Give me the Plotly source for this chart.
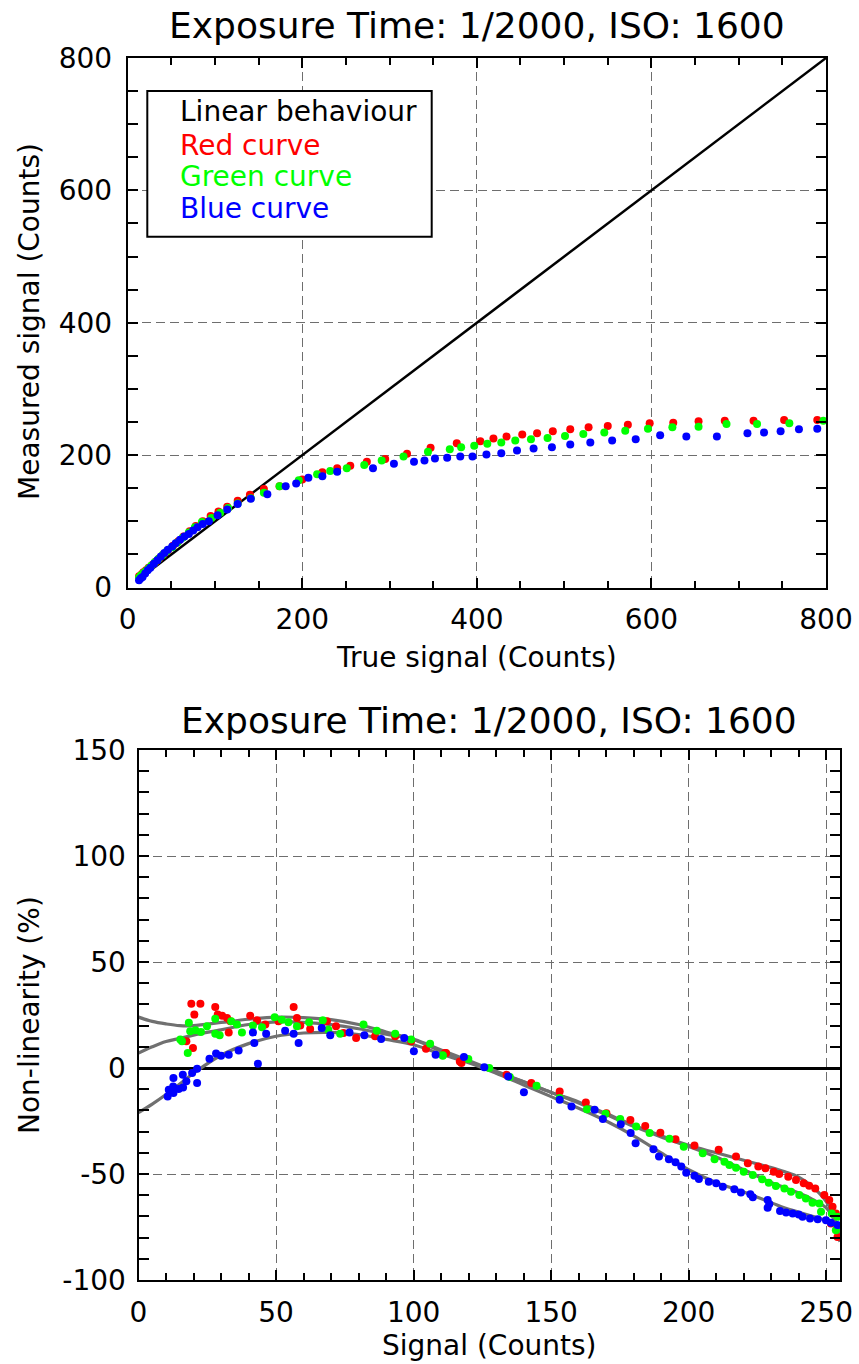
import plotly.graph_objects as go

W, H = 859, 1364

# ---------------- Top panel data (true signal vs measured signal) ----------------
linear_x = [10, 800]
linear_y = [10, 800]

red_true = [13, 16, 18, 21, 24, 28, 32, 36, 41, 46, 52, 58, 64, 71, 78, 86, 95, 104, 114, 126,
            140, 156, 174, 200, 223, 240, 255, 274, 295, 320, 347, 377, 404, 419, 434, 452, 469,
            487, 507, 528, 550, 573, 598, 625, 654, 684, 717, 752, 790]
red_meas = [17, 20, 23, 26, 30, 34, 39, 44, 50, 56, 63, 70, 77, 85, 93, 100, 108, 115, 122, 131,
            140, 149, 153, 163, 174, 180, 184, 190, 194, 202, 211, 218, 221, 225, 228, 231, 233,
            236, 239, 242, 244, 246, 248, 249, 251, 252, 252, 253, 253]

green_true = [13, 15, 18, 21, 24, 27, 31, 35, 40, 45, 51, 57, 63, 70, 77, 85, 96, 106, 115, 126,
              141, 156, 174, 196, 217, 232, 251, 271, 291, 316, 344, 369, 382, 397, 412, 428, 444,
              462, 481, 501, 522, 546, 570, 596, 624, 654, 686, 721, 758, 797]
green_meas = [15, 18, 22, 25, 29, 33, 38, 43, 49, 55, 61, 68, 75, 83, 91, 99, 105, 113, 120, 127,
              135, 143, 153, 162, 171, 176, 180, 185, 192, 198, 205, 209, 212, 214, 217, 219, 222,
              224, 226, 229, 232, 234, 237, 240, 242, 243, 247, 247, 248, 252]

blue_true = [13, 15, 17, 20, 23, 26, 30, 34, 38, 42, 46, 51, 55, 60, 65, 70, 75, 80, 86, 93, 103,
             114, 126, 141, 160, 181, 193, 207, 223, 240, 281, 305, 328, 340, 352, 366, 381, 395,
             411, 428, 446, 465, 486, 507, 530, 555, 582, 610, 640, 675, 710, 729, 748, 769, 790]
blue_meas = [11, 14, 16, 21, 26, 30, 36, 41, 47, 52, 57, 62, 67, 72, 77, 81, 86, 91, 96, 100, 109,
             118, 126, 134, 141, 153, 157, 166, 168, 175, 180, 187, 190, 192, 195, 196, 198, 198,
             201, 203, 207, 210, 212, 216, 219, 222, 224, 230, 228, 228, 233, 234, 236, 239, 240]

# ---------------- Bottom panel data (signal vs non-linearity %) ----------------
red_sig = [17.4, 19.2, 19.8, 20.3, 22.5, 27.9, 28.8, 30.4, 32.2, 32.8, 33.4, 40.6, 43.1, 46.1,
           50.9, 56.4, 57.6, 58.8, 62.4, 68.5, 71.8, 74.5, 79.1, 86.0, 93.3, 99.1, 104.5, 111.4,
           111.8, 116.8, 117.4, 133.8, 142.8, 153.1, 162.6, 170.1, 178.8, 184.2, 189.7, 195.2,
           202.1, 210.9, 217.2, 221.5, 225.3, 227.9, 230.9, 232.9, 236.2, 239.0, 241.8, 243.8,
           246.0, 249.3, 251.1, 252.3, 253.5, 251.7, 254.1]
red_nl = [12.6, 30.3, 9.4, 25.2, 30.3, 28.8, 25.2, 24.7, 23.6, 16.8, 22.0, 24.7, 22.5, 20.5,
          22.0, 28.8, 23.6, 20.0, 18.4, 22.0, 19.7, 16.5, 14.2, 15.0, 15.0, 12.6, 9.1, 7.1,
          7.1, 3.1, 2.4, -3.2, -7.1, -11.1, -16.3, -21.3, -24.5, -27.3, -30.5, -33.6,
          -36.6, -38.6, -41.8, -44.9, -46.5, -47.3, -48.9, -50.0, -51.3, -52.8, -54.4, -55.5,
          -56.8, -59.9, -62.3, -65.5, -68.6, -73.3, -79.7]

green_sig = [15.2, 15.8, 17.9, 18.3, 18.8, 20.7, 22.7, 24.9, 27.9, 27.9, 29.5, 33.7, 35.8, 37.6,
             41.6, 44.9, 49.5, 52.1, 54.5, 57.6, 62.0, 67.0, 69.0, 73.3, 81.8, 86.6, 93.3, 99.1,
             106.0, 110.6, 110.6, 119.9, 127.5, 135.0, 144.7, 153.1, 163.0, 169.8, 175.1, 180.9,
             185.8, 193.0, 198.2, 205.1, 209.4, 213.0, 214.8, 217.2, 220.0, 223.3, 226.7, 229.1,
             231.7, 234.8, 237.2, 240.2, 242.6, 245.0, 247.5, 248.1, 252.0, 254.1, 253.5]
green_nl = [13.4, 12.6, 7.1, 21.3, 17.3, 17.8, 17.0, 19.7, 23.2, 16.1, 15.5, 22.0, 20.5, 16.8,
            20.0, 19.2, 23.9, 22.8, 21.6, 19.7, 21.6, 22.5, 18.1, 16.2, 20.5, 17.6, 16.1, 13.4,
            11.4, 6.0, 5.8, 4.3, 0.0, -4.3, -8.4, -14.2, -19.4, -21.6, -24.1, -27.6,
            -30.7, -33.4, -37.1, -40.2, -43.0, -44.2, -45.7, -47.0, -48.9, -50.5, -52.5, -54.1,
            -55.7, -56.8, -58.4, -59.9, -61.5, -63.6, -63.9, -67.8, -68.6, -70.2, -76.5]

blue_sig = [10.6, 11.0, 12.6, 12.7, 12.7, 14.6, 16.1, 16.2, 17.4, 19.5, 21.3, 21.3, 25.8, 28.2,
            30.0, 32.8, 36.4, 41.6, 42.1, 43.4, 46.4, 53.3, 56.4, 58.2, 66.6, 69.7, 76.7, 82.1,
            88.2, 96.6, 100.1, 108.0, 118.3, 125.7, 134.4, 140.1, 153.1, 157.4, 165.8, 168.8,
            175.3, 178.9, 180.7, 187.2, 189.2, 192.8, 195.2, 197.3, 199.1, 202.1, 203.7, 207.3,
            210.0, 212.4, 216.6, 219.0, 222.4, 223.3, 228.7, 229.3, 228.7, 233.2, 235.4, 237.8,
            240.0, 241.4, 244.1, 246.9, 249.9, 251.7, 254.1]
blue_nl = [-13.4, -10.3, -8.7, -11.8, -4.7, -9.9, -3.2, -9.2, -6.3, -2.4, -0.3, -7.1, 4.4, 6.8,
           5.8, 6.3, 8.2, 16.8, 11.8, 2.0, 16.1, 17.6, 16.2, 11.8, 18.9, 15.5, 16.8, 15.5,
           13.7, 14.2, 7.9, 6.3, 5.2, 0.3, -4.0, -11.4, -15.0, -18.2, -19.7, -24.0,
           -26.5, -30.7, -35.5, -38.3, -41.8, -43.0, -44.5, -46.5, -49.4, -50.8, -52.4, -53.7,
           -54.4, -56.0, -57.2, -58.7, -59.6, -61.0, -62.3, -64.2, -65.9, -67.4, -68.2, -68.6,
           -69.1, -70.2, -71.0, -71.3, -71.8, -73.0, -74.1]

# polynomial-fit curves
fit_sig = [0, 5, 10, 15, 20, 30, 40, 50, 60, 70, 80, 90, 100, 110, 120, 130, 140, 150, 160,
           170, 180, 190, 200, 210, 220, 230, 235, 240, 245, 250, 253, 255]
fit_red = [24, 22, 20.8, 20, 20, 21.5, 23, 24, 23.8, 22.8, 20.5, 17, 13.4, 8, 3, -2, -6.5,
           -11.5, -16, -21.5, -27, -32, -36.5, -40, -43.5, -47, -49, -51.5, -56, -63, -71, -82]
fit_green = [7, 10, 12.5, 14, 15.5, 18, 20.5, 21.8, 21.5, 20.5, 18.5, 16, 13.5, 8.5, 3.5, -1.5,
             -6.5, -11.5, -16.5, -22, -27.5, -32.5, -37, -42, -48, -54, -56.5, -59, -62, -66,
             -72, -79]
fit_blue = [-21, -17, -12.5, -7.5, -2.5, 6, 11.5, 15, 16.5, 16.8, 15.8, 13.5, 11, 6.5, 2.5, -2.5,
            -8, -13.5, -19, -25, -32, -40, -48, -54, -58.5, -63.5, -66, -68, -70, -72, -74, -76]

TITLE = "Exposure Time: 1/2000, ISO: 1600"
FONT = "DejaVu Sans"


def px(p):
    return p / W


def py(p):
    return 1 - p / H


fig = go.Figure()

# top panel
fig.add_trace(go.Scatter(x=linear_x, y=linear_y, mode="lines",
                         line=dict(color="black", width=2.5), xaxis="x", yaxis="y"))
for xs, ys, c in [(red_true, red_meas, "#ff0000"), (green_true, green_meas, "#00ff00"),
                  (blue_true, blue_meas, "#0000ff")]:
    fig.add_trace(go.Scatter(x=xs, y=ys, mode="markers", marker=dict(color=c, size=8),
                             xaxis="x", yaxis="y"))

# bottom panel
for ys in [fit_red, fit_green, fit_blue]:
    fig.add_trace(go.Scatter(x=fit_sig, y=ys, mode="lines", line_shape="spline",
                             line=dict(color="#707070", width=3.2), xaxis="x2", yaxis="y2"))
for xs, ys, c in [(red_sig, red_nl, "#ff0000"), (green_sig, green_nl, "#00ff00"),
                  (blue_sig, blue_nl, "#0000ff")]:
    fig.add_trace(go.Scatter(x=xs, y=ys, mode="markers", marker=dict(color=c, size=8),
                             xaxis="x2", yaxis="y2"))

axis_common = dict(
    showline=True, linecolor="black", linewidth=2, mirror="allticks",
    ticks="inside", ticklen=10, tickwidth=1.5, tickcolor="black",
    showgrid=True, gridcolor="#6e6e6e", gridwidth=1.3, griddash="9px,5px",
    zeroline=False, automargin=False,
    tickfont=dict(family=FONT, size=28, color="black"),
)

fig.update_layout(
    width=W, height=H, showlegend=False,
    paper_bgcolor="white", plot_bgcolor="white",
    margin=dict(l=0, r=0, t=0, b=0, autoexpand=False),
    font=dict(family=FONT, color="black"),
    xaxis=dict(domain=[px(127.7), px(826)], range=[0, 800],
               tickvals=[0, 200, 400, 600, 800], ticklabelstandoff=6,
               minor=dict(dtick=50, ticks="inside", ticklen=7, tickwidth=1.5, tickcolor="black",
                          showgrid=False),
               anchor="y", **axis_common),
    yaxis=dict(domain=[py(587.5), py(58)], range=[0, 800],
               tickvals=[0, 200, 400, 600, 800], ticklabelstandoff=8,
               minor=dict(dtick=50, ticks="inside", ticklen=10, tickwidth=1.5, tickcolor="black",
                          showgrid=False),
               anchor="x", **axis_common),
    xaxis2=dict(domain=[px(138.5), px(840)], range=[0, 255],
                tickvals=[0, 50, 100, 150, 200, 250], ticklabelstandoff=6,
                minor=dict(dtick=10, ticks="inside", ticklen=7, tickwidth=1.5, tickcolor="black",
                           showgrid=False),
                anchor="y2", **axis_common),
    yaxis2=dict(domain=[py(1280), py(750)], range=[-100, 150],
                tickvals=[-100, -50, 0, 50, 100, 150],
                ticktext=["-100", "-50", "0", "50", "100", "150"], ticklabelstandoff=5,
                minor=dict(dtick=10, ticks="inside", ticklen=10, tickwidth=1.5, tickcolor="black",
                           showgrid=False),
                anchor="x2", **axis_common),
)
fig.update_layout(yaxis2=dict(zeroline=True, zerolinecolor="black", zerolinewidth=2.5))

# legend box (top panel)
fig.add_shape(type="rect", xref="paper", yref="paper",
              x0=px(147.3), x1=px(431.7), y0=py(236.7), y1=py(91),
              line=dict(color="black", width=2), fillcolor="white", layer="above")
legend_items = [("Linear behaviour", "black", 111.7), ("Red curve", "#ff0000", 145.0),
                ("Green curve", "#00ff00", 176.7), ("Blue curve", "#0000ff", 208.3)]
for txt, col, yc in legend_items:
    fig.add_annotation(text=txt, xref="paper", yref="paper", x=px(178), y=py(yc),
                       xanchor="left", yanchor="middle", showarrow=False,
                       font=dict(family=FONT, size=28, color=col))

# titles
texts = [
    (TITLE, 477, 26, 36, 0),
    (TITLE, 489, 720, 36, 0),
    ("True signal (Counts)", 477, 657, 28, 0),
    ("Signal (Counts)", 489, 1345, 28, 0),
    ("Measured signal (Counts)", 29, 322, 28, -90),
    ("Non-linearity (%)", 29, 1015, 28, -90),
]
for txt, xc, yc, sz, ang in texts:
    fig.add_annotation(text=txt, xref="paper", yref="paper", x=px(xc), y=py(yc),
                       xanchor="center", yanchor="middle", showarrow=False, textangle=ang,
                       font=dict(family=FONT, size=sz, color="black"))

fig.write_html("out.html", config={"displayModeBar": False},
               post_script="document.body.style.margin='0px';document.body.style.overflow='hidden';")
